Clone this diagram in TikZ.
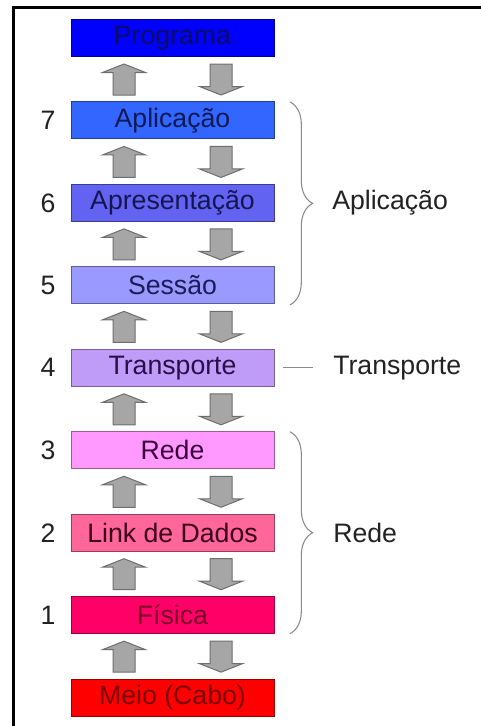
\documentclass[tikz,border=0pt]{standalone}
\usepackage{fontspec}
\setmainfont{Liberation Sans}
\usetikzlibrary{calc,decorations.pathreplacing}
\definecolor{fProg}{HTML}{0000FF}\definecolor{tProg}{HTML}{0C0C66}
\definecolor{fApl}{HTML}{3366FF}\definecolor{tApl}{HTML}{0E1A55}
\definecolor{fApr}{HTML}{6363F2}\definecolor{tApr}{HTML}{15154F}
\definecolor{fSes}{HTML}{9999FF}\definecolor{tSes}{HTML}{1C1C58}
\definecolor{fTra}{HTML}{BF9CF8}\definecolor{tTra}{HTML}{2A0E48}
\definecolor{fRed}{HTML}{FF99FF}\definecolor{tRed}{HTML}{3A003A}
\definecolor{fLin}{HTML}{FF6699}\definecolor{tLin}{HTML}{3A001C}
\definecolor{fFis}{HTML}{FF0066}\definecolor{tFis}{HTML}{7A0028}
\definecolor{fMei}{HTML}{FF0000}\definecolor{tMei}{HTML}{7A0000}
\definecolor{arrfill}{HTML}{A6A6A6}\definecolor{arrdraw}{HTML}{6E6E6E}
\definecolor{bracecol}{HTML}{8A8A8A}\definecolor{labcol}{HTML}{222222}
\begin{document}
\begin{tikzpicture}[x=0.75pt,y=-0.75pt,
  font=\fontsize{20}{24}\selectfont,
  layer/.style={minimum width=152.25pt,minimum height=27.75pt,inner sep=0pt,outer sep=0pt,line width=0.75pt},
  num/.style={text=labcol},
  lab/.style={anchor=west,text=labcol,inner sep=0pt},
  arrowstyle/.style={fill=arrfill,draw=arrdraw,line width=0.75pt},
  bracestyle/.style={draw=bracecol,line width=0.8pt,decorate,decoration={brace,amplitude=17pt}},
  uparr/.pic={\draw[arrowstyle] (-11,31) -- (-11,8.5) -- (-21.5,8.5) -- (0,0) -- (21.5,8.5) -- (11,8.5) -- (11,31) -- cycle;},
  downarr/.pic={\draw[arrowstyle] (-11,0) -- (11,0) -- (11,22.5) -- (21.5,22.5) -- (0,31) -- (-21.5,22.5) -- (-11,22.5) -- cycle;}
]
\useasboundingbox (0,0) rectangle (480,726);
\fill[white] (0,0) rectangle (480,726);
\draw[line width=2.25pt] (13,730) -- (13,7) -- (484,7);

\node[layer,fill=fProg,draw=fProg!60!black,text=tProg] (b0) at (172.5,38) {Programa};
\node[layer,fill=fApl,draw=fApl!60!black,text=tApl] (b1) at (172.5,120.45) {Aplicação};
\node[layer,fill=fApr,draw=fApr!60!black,text=tApr] (b2) at (172.5,202.9) {Apresentação};
\node[layer,fill=fSes,draw=fSes!60!black,text=tSes] (b3) at (172.5,285.35) {Sessão};
\node[layer,fill=fTra,draw=fTra!60!black,text=tTra] (b4) at (172.5,367.8) {Transporte};
\node[layer,fill=fRed,draw=fRed!60!black,text=tRed] (b5) at (172.5,450.25) {Rede};
\node[layer,fill=fLin,draw=fLin!60!black,text=tLin] (b6) at (172.5,532.7) {Link de Dados};
\node[layer,fill=fFis,draw=fFis!60!black,text=tFis] (b7) at (172.5,615.15) {Física};
\node[layer,fill=fMei,draw=fMei!60!black,text=tMei] (b8) at (172.5,697.6) {Meio (Cabo)};

\node[num] (n7) at (48,120.45) {7};
\node[num] (n6) at (48,202.9) {6};
\node[num] (n5) at (48,285.35) {5};
\node[num] (n4) at (48,367.8) {4};
\node[num] (n3) at (48,450.25) {3};
\node[num] (n2) at (48,532.7) {2};
\node[num] (n1) at (48,615.15) {1};

\foreach \i in {0,...,7}{
  \pgfmathsetmacro{\yy}{38+82.45*\i+26}
  \pic at (124,\yy) {uparr};
  \pic at (221,\yy) {downarr};
}

\draw[bracestyle] ($(b1.north east)+(16,0)$) coordinate (ba) -- ($(b3.south east)+(16,1)$) coordinate (bb);
\node[lab] (lapl) at (332,203) {Aplicação};

\coordinate (ta) at ($(b4.east)+(9,0)$);
\coordinate (tb) at ($(b4.east)+(39,0)$);
\draw[draw=bracecol,line width=0.8pt] (ta) -- (tb);
\node[lab] (ltra) at (333,368) {Transporte};

\draw[bracestyle] ($(b5.north east)+(16,0)$) coordinate (ra) -- ($(b7.south east)+(16,0)$) coordinate (rb);
\node[lab] (lred) at (333,533) {Rede};
\end{tikzpicture}
\end{document}
